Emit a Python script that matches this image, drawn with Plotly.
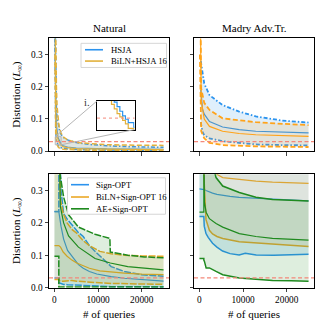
import plotly.graph_objects as go

FONT = "Liberation Serif, Times New Roman, serif"
W, H = 325, 334

X_RANGE = [-1250, 26250]
Y_RANGE = [0, 0.35]
X_TICKS = [0, 10000, 20000]
Y_TICKS = [0.0, 0.1, 0.2, 0.3]
THRESHOLD = 0.03

PANEL_TITLES = ["Natural", "Madry Adv.Tr."]
Y_TITLE = "Distortion (<i>L</i><sub>∞</sub>)"
X_TITLE = "# of queries"
LEGEND_TOP = ["HSJA", "BiLN+HSJA 16"]
LEGEND_BOTTOM = ["Sign-OPT", "BiLN+Sign-OPT 16", "AE+Sign-OPT"]

# ---- top-left: Natural, HSJA vs BiLN+HSJA ----
TL_Q = [100, 200, 300, 450, 600, 700, 800, 900, 1000, 1100, 1200, 1300, 1500,
        2000, 3000, 5000, 8000, 12000, 17000, 25000]
TL_HSJA_HI = [0.5, 0.3, 0.18, 0.13, 0.105, 0.095, 0.087, 0.08, 0.074, 0.069, 0.064,
              0.06, 0.053, 0.043, 0.035, 0.027, 0.021, 0.017, 0.014, 0.012]
TL_HSJA_MED = [0.5, 0.25, 0.13, 0.08, 0.058, 0.05, 0.044, 0.04, 0.036, 0.032, 0.029,
               0.026, 0.022, 0.017, 0.013, 0.01, 0.008, 0.007, 0.0065, 0.006]
TL_HSJA_LO = [0.35, 0.12, 0.06, 0.035, 0.025, 0.021, 0.019, 0.017, 0.015, 0.014, 0.013,
              0.012, 0.011, 0.009, 0.007, 0.005, 0.004, 0.0035, 0.003, 0.003]
TL_BILN_HI = [0.6, 0.45, 0.3, 0.2, 0.14, 0.12, 0.105, 0.093, 0.083, 0.076, 0.07,
              0.065, 0.056, 0.045, 0.035, 0.027, 0.023, 0.02, 0.019, 0.018]
TL_BILN_MED = [0.5, 0.2, 0.1, 0.065, 0.048, 0.042, 0.038, 0.034, 0.031, 0.028, 0.025,
               0.021, 0.018, 0.014, 0.011, 0.008, 0.007, 0.006, 0.0055, 0.005]
TL_BILN_LO = [0.3, 0.08, 0.04, 0.025, 0.018, 0.015, 0.013, 0.012, 0.011, 0.01, 0.009,
              0.008, 0.007, 0.006, 0.005, 0.004, 0.003, 0.0025, 0.002, 0.002]

# inset window on the top-left panel
INSET_X = [180, 1525]
INSET_Y = [0.02, 0.045]

# ---- top-right: Madry, HSJA vs BiLN+HSJA ----
TR_HSJA_Q = [300, 700, 1100, 2300, 5300, 9100, 12900, 19000, 25000]
TR_HSJA_HI = [0.28, 0.24, 0.21, 0.174, 0.143, 0.123, 0.108, 0.095, 0.089]
TR_HSJA_MED = [0.19, 0.13, 0.115, 0.092, 0.075, 0.067, 0.062, 0.059, 0.057]
TR_HSJA_LO = [0.09, 0.06, 0.05, 0.04, 0.031, 0.025, 0.021, 0.019, 0.018]
TR_BILN_Q = [100, 400, 1100, 2300, 5300, 9100, 12900, 19000, 25000]
TR_BILN_HI = [0.6, 0.194, 0.15, 0.128, 0.102, 0.095, 0.09, 0.085, 0.081]
TR_BILN_MED = [0.6, 0.158, 0.1, 0.077, 0.062, 0.055, 0.051, 0.048, 0.046]
TR_BILN_LO = [0.3, 0.062, 0.04, 0.026, 0.019, 0.016, 0.015, 0.014, 0.013]

# ---- bottom-left: Natural, Sign-OPT family ----
BL_SO_Q = [0, 1000, 1001, 1500, 2100, 3000, 4400, 5500, 6600, 8000, 9700, 11900,
           13000, 16000, 20000, 25000]
BL_SO_HI = [0.235, 0.235, 0.5, 0.3, 0.229, 0.21, 0.188, 0.17, 0.158, 0.13, 0.107,
            0.077, 0.065, 0.05, 0.04, 0.035]
BL_SO_MED = [0.235, 0.235, 0.235, 0.19, 0.15, 0.115, 0.09, 0.071, 0.06, 0.05, 0.042,
             0.036, 0.034, 0.029, 0.024, 0.02]
BL_SO_LO = [0.03, 0.03, 0.015, 0.012, 0.01, 0.009, 0.008, 0.007, 0.006, 0.005, 0.004,
            0.004, 0.003, 0.003, 0.002, 0.002]
BL_BILN_Q = [0, 1000, 1001, 1400, 2000, 2900, 4000, 5100, 6600, 8000, 10400, 13000,
             16000, 20000, 25000]
BL_BILN_HI = [0.5, 0.5, 0.5, 0.27, 0.23, 0.2, 0.18, 0.168, 0.145, 0.13, 0.112, 0.105,
              0.1, 0.098, 0.097]
BL_BILN_MED = [0.13, 0.13, 0.13, 0.125, 0.11, 0.097, 0.085, 0.076, 0.067, 0.06, 0.052,
               0.048, 0.045, 0.042, 0.04]
BL_BILN_LO = [0.025, 0.025, 0.022, 0.02, 0.02, 0.021, 0.022, 0.02, 0.018, 0.017, 0.015,
              0.013, 0.012, 0.011, 0.01]
BL_AE_Q = [0, 1000, 1001, 1360, 2100, 3230, 5500, 9300, 12700, 12800, 16800, 20600, 25000]
BL_AE_HI = [0.5, 0.5, 0.5, 0.344, 0.28, 0.225, 0.187, 0.165, 0.152, 0.11, 0.1, 0.095,
            0.092]
BL_AE_MED = [0.5, 0.5, 0.5, 0.25, 0.2, 0.16, 0.125, 0.09, 0.077, 0.076, 0.065, 0.06,
             0.055]
BL_AE_LO = [0.097, 0.097, 0.002, 0.002, 0.002, 0.002, 0.002, 0.002, 0.002, 0.002,
            0.002, 0.002, 0.002]

# ---- bottom-right: Madry, Sign-OPT family ----
BR_SO_Q = [0, 1000, 1100, 1500, 2000, 3000, 4000, 5300, 7000, 9100, 10500, 11500,
           13000, 17000, 21000, 25000]
BR_SO_HI = [0.6] * 16
BR_SO_MED = [0.305, 0.305, 0.303, 0.3, 0.297, 0.292, 0.288, 0.285, 0.282, 0.279, 0.278,
             0.277, 0.276, 0.272, 0.27, 0.268]
BR_SO_LO = [0.22, 0.22, 0.19, 0.167, 0.155, 0.137, 0.125, 0.113, 0.105, 0.101, 0.106,
            0.104, 0.101, 0.1, 0.101, 0.103]
BR_BILN_Q = [0, 1000, 1001, 1500, 2280, 3000, 4000, 5330, 9130, 12940, 16740, 21000,
             25000]
BR_BILN_HI = [0.6] * 13
BR_BILN_MED = [0.5, 0.5, 0.5, 0.5, 0.5, 0.38, 0.35, 0.34, 0.334, 0.329, 0.326, 0.324,
               0.322]
BR_BILN_LO = [0.5, 0.5, 0.35, 0.21, 0.177, 0.166, 0.158, 0.152, 0.142, 0.138, 0.134,
              0.13, 0.127]
BR_AE_Q = [0, 1000, 1001, 1140, 1530, 2280, 3800, 5330, 9130, 12940, 16740, 21000, 25000]
BR_AE_HI = [0.5, 0.5, 0.5, 0.5, 0.5, 0.42, 0.34, 0.314, 0.294, 0.279, 0.272, 0.27, 0.268]
BR_AE_MED = [0.233, 0.233, 0.5, 0.264, 0.233, 0.213, 0.198, 0.187, 0.167, 0.158, 0.152,
             0.149, 0.147]
BR_AE_LO = [0.09, 0.09, 0.085, 0.081, 0.061, 0.061, 0.05, 0.04, 0.03, 0.025, 0.022,
            0.021, 0.02]

BLUE = "#2b93ee"
GREEN = "#1f8a1f"
RED = "#f4887a"
ORANGE = {"tl": "#e2b13c", "tr": "#ffa31a", "bl": "#eba826", "br": "#dba535"}

# paper-space layout of the 2x2 grid (pixel boxes of the reference)
DOM_X = [[49 / W, 169 / W], [194 / W, 314 / W]]
DOM_Y = [[1 - 153.5 / H, 1 - 39 / H], [1 - 292 / H, 1 - 177 / H]]
INSET_DOM_X = [97 / W, 134.5 / W]
INSET_DOM_Y = [1 - 131.5 / H, 1 - 102.5 / H]


def rgba(hex_color, a):
    h = hex_color.lstrip("#")
    r, g, b = (int(h[i:i + 2], 16) for i in (0, 2, 4))
    return f"rgba({r},{g},{b},{a})"


def band(fig, q, lo, med, hi, color, dash, xa, ya, wb=1.5, wm=1.2):
    common = dict(mode="lines", xaxis=xa, yaxis=ya, showlegend=False, hoverinfo="skip")
    fig.add_trace(go.Scatter(x=q, y=lo, line=dict(color=color, width=wb, dash=dash), **common))
    fig.add_trace(go.Scatter(x=q, y=hi, fill="tonexty", fillcolor=rgba(color, 0.15),
                             line=dict(color=color, width=wb, dash=dash), **common))
    fig.add_trace(go.Scatter(x=q, y=med, line=dict(color=color, width=wm), **common))


fig = go.Figure()

DASHDOT = "4px,2px,1.5px,2px"
DASH = "5px,2.5px"
LONGDASH = "7px,1.5px"

band(fig, TL_Q, TL_HSJA_LO, TL_HSJA_MED, TL_HSJA_HI, BLUE, DASHDOT, "x", "y")
band(fig, TL_Q, TL_BILN_LO, TL_BILN_MED, TL_BILN_HI, ORANGE["tl"], DASH, "x", "y")

band(fig, TR_HSJA_Q, TR_HSJA_LO, TR_HSJA_MED, TR_HSJA_HI, BLUE, DASHDOT, "x2", "y2", wb=1.8)
band(fig, TR_BILN_Q, TR_BILN_LO, TR_BILN_MED, TR_BILN_HI, ORANGE["tr"], DASH, "x2", "y2", wb=1.8)

band(fig, BL_SO_Q, BL_SO_LO, BL_SO_MED, BL_SO_HI, BLUE, LONGDASH, "x3", "y3")
band(fig, BL_BILN_Q, BL_BILN_LO, BL_BILN_MED, BL_BILN_HI, ORANGE["bl"], LONGDASH, "x3", "y3")
band(fig, BL_AE_Q, BL_AE_LO, BL_AE_MED, BL_AE_HI, GREEN, LONGDASH, "x3", "y3")

band(fig, BR_SO_Q, BR_SO_LO, BR_SO_MED, BR_SO_HI, BLUE, "solid", "x4", "y4")
band(fig, BR_BILN_Q, BR_BILN_LO, BR_BILN_MED, BR_BILN_HI, ORANGE["br"], "solid", "x4", "y4")
band(fig, BR_AE_Q, BR_AE_LO, BR_AE_MED, BR_AE_HI, GREEN, "solid", "x4", "y4")

# inset: white backing, then zoomed step medians
fig.add_trace(go.Scatter(
    x=[INSET_X[0], INSET_X[1], INSET_X[1], INSET_X[0], INSET_X[0]],
    y=[INSET_Y[0], INSET_Y[0], INSET_Y[1], INSET_Y[1], INSET_Y[0]],
    fill="toself", fillcolor="white", line=dict(width=0), mode="lines",
    xaxis="x5", yaxis="y5", showlegend=False, hoverinfo="skip"))
for med, color in [(TL_BILN_MED, ORANGE["tl"]), (TL_HSJA_MED, BLUE)]:
    fig.add_trace(go.Scatter(x=TL_Q, y=med, mode="lines", line=dict(color=color, width=1.2, shape="hv"),
                             xaxis="x5", yaxis="y5", showlegend=False, hoverinfo="skip"))

axis_font = dict(family=FONT, size=9.3, color="black")
layout = {}
shapes = []
annotations = []
for i in range(4):
    row, col = divmod(i, 2)
    key = "" if i == 0 else str(i + 1)
    layout["xaxis" + key] = dict(
        domain=DOM_X[col], anchor="y" + key, range=X_RANGE, tickvals=X_TICKS,
        tickformat="d", showticklabels=(row == 1), ticks="outside", ticklen=3.5,
        tickwidth=0.8, showline=True, mirror=True, linecolor="black", linewidth=1,
        showgrid=False, zeroline=False, tickfont=axis_font)
    layout["yaxis" + key] = dict(
        domain=DOM_Y[row], anchor="x" + key, range=Y_RANGE, tickvals=Y_TICKS,
        tickformat=".1f", showticklabels=(col == 0), ticks="outside", ticklen=3.5,
        tickwidth=0.8, showline=True, mirror=True, linecolor="black", linewidth=1,
        showgrid=False, zeroline=False, tickfont=axis_font)
    shapes.append(dict(type="line", xref=f"x{key} domain", yref="y" + key, x0=0, x1=1,
                       y0=THRESHOLD, y1=THRESHOLD, line=dict(color=RED, width=1.3, dash="4px,2.5px")))

layout["xaxis5"] = dict(domain=INSET_DOM_X, anchor="y5", range=INSET_X, showticklabels=False,
                        ticks="", showline=True, mirror=True, linecolor="black", linewidth=1,
                        showgrid=False, zeroline=False)
layout["yaxis5"] = dict(domain=INSET_DOM_Y, anchor="x5", range=INSET_Y, showticklabels=False,
                        ticks="", showline=True, mirror=True, linecolor="black", linewidth=1,
                        showgrid=False, zeroline=False)
shapes.append(dict(type="line", xref="x5 domain", yref="y5", x0=0, x1=1, y0=THRESHOLD,
                   y1=THRESHOLD, line=dict(color=RED, width=1, dash="dot")))


# zoom rectangle and connectors (data -> paper)
def px(q):
    return DOM_X[0][0] + (q - X_RANGE[0]) / (X_RANGE[1] - X_RANGE[0]) * (DOM_X[0][1] - DOM_X[0][0])


def py(v):
    return DOM_Y[0][0] + (v - Y_RANGE[0]) / (Y_RANGE[1] - Y_RANGE[0]) * (DOM_Y[0][1] - DOM_Y[0][0])


def text(t, x, y, size, **kw):
    annotations.append(dict(text=t, x=x, y=y, xref="paper", yref="paper", showarrow=False,
                            xanchor=kw.pop("xanchor", "center"), yanchor="middle",
                            font=dict(family=FONT, size=size, color=kw.pop("color", "black")), **kw))


GRAY = "#b5b5b5"
shapes.append(dict(type="rect", xref="x", yref="y", x0=INSET_X[0], x1=INSET_X[1],
                   y0=INSET_Y[0], y1=INSET_Y[1], line=dict(color=GRAY, width=1)))
shapes.append(dict(type="line", xref="paper", yref="paper", x0=px(INSET_X[0]), y0=py(INSET_Y[1]),
                   x1=INSET_DOM_X[0], y1=INSET_DOM_Y[1], line=dict(color=GRAY, width=1)))
shapes.append(dict(type="line", xref="paper", yref="paper", x0=px(INSET_X[1]), y0=py(INSET_Y[0]),
                   x1=INSET_DOM_X[1], y1=INSET_DOM_Y[0], line=dict(color=GRAY, width=1)))
text("i.", 87 / W, 1 - 104 / H, 10.5, color="#333")


# legends
def legend(box, labels, colors, ys, x_line, x_text):
    shapes.append(dict(type="rect", xref="paper", yref="paper",
                       x0=box[0] / W, x1=box[2] / W, y0=1 - box[3] / H, y1=1 - box[1] / H,
                       line=dict(color="#d6d6d6", width=1), fillcolor="rgba(255,255,255,0.85)"))
    for lab, c, yy in zip(labels, colors, ys):
        shapes.append(dict(type="line", xref="paper", yref="paper", x0=x_line[0] / W,
                           x1=x_line[1] / W, y0=1 - yy / H, y1=1 - yy / H,
                           line=dict(color=c, width=1.6)))
        text(lab, x_text / W, 1 - yy / H, 8.7, xanchor="left")


legend((81, 44, 166.5, 68.5), LEGEND_TOP, [BLUE, ORANGE["tl"]], [50.5, 62], (85, 103), 109)
legend((67.5, 180.5, 165.5, 217.5), LEGEND_BOTTOM, [BLUE, ORANGE["bl"], GREEN],
       [187.5, 200, 212], (71, 89), 94)

for col, t in enumerate(PANEL_TITLES):
    text(t, sum(DOM_X[col]) / 2, 1 - 28 / H, 11)
for row in range(2):
    text(Y_TITLE, 17 / W, sum(DOM_Y[row]) / 2, 11, textangle=-90)
for col in range(2):
    text(X_TITLE, sum(DOM_X[col]) / 2, 1 - 319 / H, 11)

fig.update_layout(
    width=W, height=H, margin=dict(l=0, r=0, t=0, b=0),
    paper_bgcolor="white", plot_bgcolor="white", showlegend=False,
    font=dict(family=FONT, color="black"),
    shapes=shapes, annotations=annotations, **layout)

fig.write_html("out.html", config={"displayModeBar": False},
               post_script="document.body.style.margin='0px';")
